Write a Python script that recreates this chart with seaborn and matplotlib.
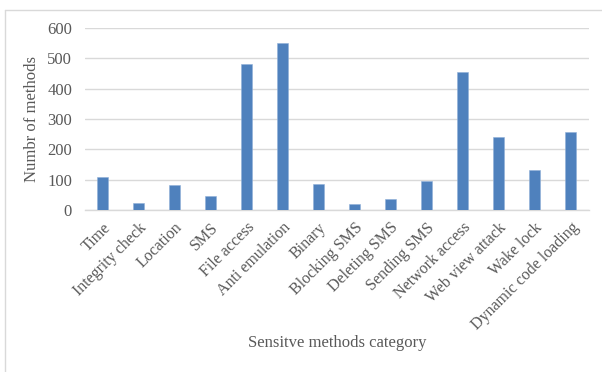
import matplotlib
matplotlib.use("Agg")
import matplotlib.pyplot as plt
from matplotlib.lines import Line2D
import seaborn as sns
import pandas as pd

categories = [
    "Time", "Integrity check", "Location", "SMS", "File access",
    "Anti emulation", "Binary", "Blocking SMS", "Deleting SMS",
    "Sending SMS", "Network access", "Web view attack", "Wake lock",
    "Dynamic code loading",
]
method_counts = [108, 24, 81, 45, 481, 551, 85, 20, 35, 97, 455, 241, 132, 256]
y_ticks = [0, 100, 200, 300, 400, 500, 600]

df = pd.DataFrame({"category": categories, "count": method_counts})

sns.set_theme(style="white")
plt.rcParams["font.family"] = ["Liberation Serif", "DejaVu Serif"]
text_color = "#595959"

fig = plt.figure(figsize=(6.02, 3.72), dpi=100)
ax = fig.add_axes([84.5 / 602, 1 - 210 / 372, 504 / 602, 182 / 372])

sns.barplot(data=df, x="category", y="count", color="#4f81bd",
            width=0.33, saturation=1, edgecolor="#8fb0d8", linewidth=0.4,
            ax=ax, zorder=3)

ax.set_ylim(0, 600)
ax.set_yticks(y_ticks)
ax.set_xlim(-0.5, len(categories) - 0.5)
ax.yaxis.grid(True, color="#d9d9d9", linewidth=1.0, zorder=0)
ax.set_axisbelow(True)

for side in ["top", "right", "left"]:
    ax.spines[side].set_visible(False)
ax.spines["bottom"].set_color("#d9d9d9")
ax.spines["bottom"].set_linewidth(1.0)

ax.tick_params(axis="both", length=0, colors=text_color)
ax.tick_params(axis="y", pad=9, labelsize=12)
ax.tick_params(axis="x", pad=7, labelsize=11.5)
plt.setp(ax.get_xticklabels(), rotation=45, ha="right",
         rotation_mode="anchor")

ax.set_ylabel("Numbr of methods", fontsize=12, color=text_color, labelpad=5)
ax.set_xlabel("")
fig.text(337 / 602, 1 - 343 / 372, "Sensitve methods category",
         ha="center", va="center", fontsize=12, color=text_color)

# thin frame on the left and top edges of the figure
frame_kw = dict(color="#d9d9d9", linewidth=1.0, transform=fig.transFigure)
fig.add_artist(Line2D([4.5 / 602, 4.5 / 602], [0, 1 - 10 / 372], **frame_kw))
fig.add_artist(Line2D([4.5 / 602, 1], [1 - 10 / 372, 1 - 10 / 372], **frame_kw))

fig.savefig("out.png", dpi=100)
